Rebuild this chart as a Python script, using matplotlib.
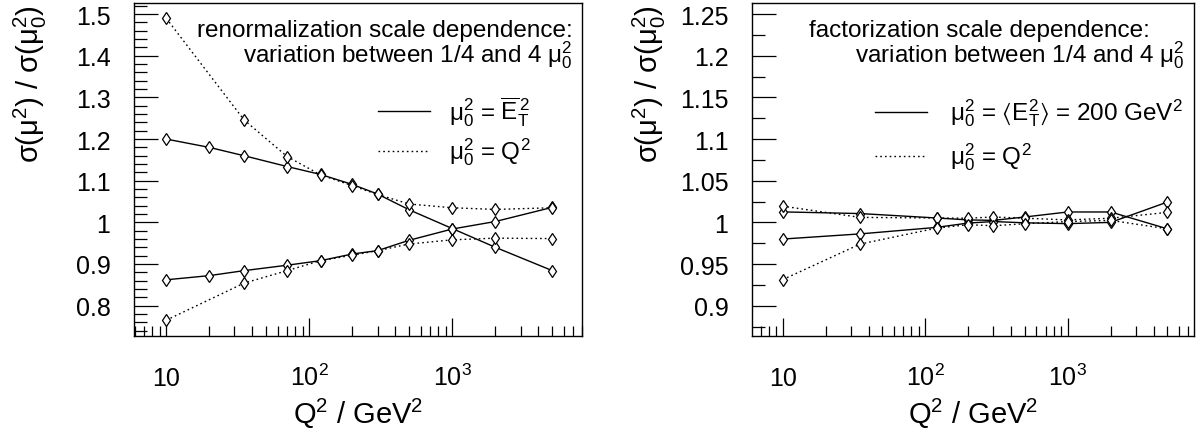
import matplotlib
matplotlib.use('Agg')
import matplotlib.pyplot as plt
import matplotlib.ticker as ticker
from matplotlib.lines import Line2D

plt.rcParams['font.family'] = ['Liberation Sans', 'DejaVu Sans']
plt.rcParams['mathtext.fontset'] = 'custom'
plt.rcParams['mathtext.rm'] = 'Liberation Sans'
plt.rcParams['mathtext.it'] = 'Liberation Sans'
plt.rcParams['mathtext.bf'] = 'Liberation Sans:bold'
plt.rcParams['mathtext.fallback'] = 'stixsans'

# renormalization scale panel
q2_ren_et = [10, 20, 35, 70, 120, 200, 300, 500, 1000, 2000, 5000]
ren_et_up = [1.200, 1.180, 1.160, 1.134, 1.115, 1.091, 1.068, 1.030, 0.985, 0.940, 0.884]
ren_et_dn = [0.862, 0.872, 0.884, 0.897, 0.908, 0.924, 0.932, 0.957, 0.984, 1.002, 1.036]
q2_ren_q2 = [10, 35, 70, 120, 200, 300, 500, 1000, 2000, 5000]
ren_q2_up = [1.490, 1.246, 1.158, 1.114, 1.088, 1.067, 1.044, 1.035, 1.031, 1.035]
ren_q2_dn = [0.765, 0.854, 0.884, 0.908, 0.921, 0.932, 0.948, 0.958, 0.962, 0.961]

# factorization scale panel
q2_fac = [10, 35, 120, 200, 300, 500, 1000, 2000, 5000]
fac_et_a = [1.0126, 1.0106, 1.0053, 1.0030, 1.0024, 1.0065, 1.0125, 1.0125, 0.9923]
fac_et_b = [0.9800, 0.9862, 0.9940, 0.9992, 1.0010, 0.9995, 0.9985, 1.0000, 1.0244]
fac_q2_a = [1.0195, 1.0060, 1.0053, 1.0050, 1.0065, 1.0050, 1.0030, 1.0050, 1.0120]
fac_q2_b = [0.9313, 0.9740, 0.9931, 0.9972, 0.9960, 0.9984, 1.0010, 1.0024, 0.9923]

xtick_vals = [10, 100, 1000]
xtick_labels = ['10', '10$^2$', '10$^3$']

DOT = (0, (1.2, 2.2))
mk = dict(marker='d', markersize=6, mfc='white', mec='black', mew=0.9)
FS_TEXT = 17.5


def style_axis(ax, xlim, ylim, ymaj, ymin):
    ax.set_xscale('log')
    ax.set_xlim(xlim)
    ax.set_ylim(ylim)
    ax.xaxis.set_major_locator(ticker.FixedLocator(xtick_vals))
    ax.xaxis.set_major_formatter(ticker.FixedFormatter(xtick_labels))
    ax.xaxis.set_minor_locator(ticker.LogLocator(base=10, subs=range(2, 10)))
    ax.xaxis.set_minor_formatter(ticker.NullFormatter())
    ax.yaxis.set_major_locator(ticker.MultipleLocator(ymaj))
    ax.yaxis.set_minor_locator(ticker.MultipleLocator(ymin))
    ax.yaxis.set_major_formatter(ticker.FuncFormatter(lambda v, p: '%g' % round(v, 3)))
    ax.tick_params(axis='both', which='both', direction='in', top=False, right=False, width=0.9)
    ax.tick_params(axis='x', which='major', length=13, pad=35, labelsize=18)
    ax.tick_params(axis='x', which='minor', length=7)
    ax.tick_params(axis='y', which='major', length=17, pad=17, labelsize=18)
    ax.tick_params(axis='y', which='minor', length=9)
    for t in ax.xaxis.get_major_ticks():
        t.label1.set_verticalalignment('baseline')
    for s in ax.spines.values():
        s.set_linewidth(1.0)
    ax.set_xlabel('Q$^2$ / GeV$^2$', fontsize=21)
    ax.xaxis.set_label_coords(0.5, -0.18)
    ax.text(-0.232, 0.995, 'σ(μ$^2$) / σ(μ$_0^2$)', transform=ax.transAxes,
            rotation=90, ha='center', va='top', fontsize=21)


def legend_entry(ax, y, x0, x1, xt, ls, label):
    ax.add_line(Line2D([x0, x1], [y, y], transform=ax.transAxes, color='black',
                       lw=1.0, ls=ls))
    ax.text(xt, y, label, transform=ax.transAxes, ha='left', va='center', fontsize=FS_TEXT)


def main():
    fig = plt.figure(figsize=(11.96, 4.39), dpi=100)
    ax1 = fig.add_axes([134 / 1196, 102 / 439, 447.5 / 1196, 333.5 / 439])
    ax2 = fig.add_axes([752 / 1196, 102 / 439, 442 / 1196, 333.5 / 439])

    # left: renormalization scale
    ax1.plot(q2_ren_et, ren_et_up, color='black', lw=1.0, **mk)
    ax1.plot(q2_ren_et, ren_et_dn, color='black', lw=1.0, **mk)
    ax1.plot(q2_ren_q2, ren_q2_up, color='black', lw=1.0, ls=DOT, **mk)
    ax1.plot(q2_ren_q2, ren_q2_dn, color='black', lw=1.0, ls=DOT, **mk)
    style_axis(ax1, (5.95, 8000), (0.727, 1.528), 0.1, 0.02)
    ax1.text(0.981, 0.900, 'renormalization scale dependence:', transform=ax1.transAxes,
             ha='right', va='baseline', fontsize=FS_TEXT)
    ax1.text(0.981, 0.822, 'variation between 1/4 and 4 μ$_0^2$', transform=ax1.transAxes,
             ha='right', va='baseline', fontsize=FS_TEXT)
    legend_entry(ax1, 0.675, 0.546, 0.662, 0.705, '-', 'μ$_0^2$ = $\\overline{E}_T^{\\,2}$')
    legend_entry(ax1, 0.555, 0.546, 0.662, 0.705, DOT, 'μ$_0^2$ = Q$^2$')

    # right: factorization scale
    ax2.plot(q2_fac, fac_et_a, color='black', lw=1.0, **mk)
    ax2.plot(q2_fac, fac_et_b, color='black', lw=1.0, **mk)
    ax2.plot(q2_fac, fac_q2_a, color='black', lw=1.0, ls=DOT, **mk)
    ax2.plot(q2_fac, fac_q2_b, color='black', lw=1.0, ls=DOT, **mk)
    style_axis(ax2, (6.09, 7690), (0.8636, 1.264), 0.05, 0.025)
    ax2.text(0.129, 0.900, 'factorization scale dependence:', transform=ax2.transAxes,
             ha='left', va='baseline', fontsize=FS_TEXT)
    ax2.text(0.978, 0.822, 'variation between 1/4 and 4 μ$_0^2$', transform=ax2.transAxes,
             ha='right', va='baseline', fontsize=FS_TEXT)
    legend_entry(ax2, 0.672, 0.279, 0.395, 0.449, '-',
                 'μ$_0^2$ = $\\langle$E$_T^2$$\\rangle$ = 200 GeV$^2$')
    legend_entry(ax2, 0.540, 0.279, 0.395, 0.449, DOT, 'μ$_0^2$ = Q$^2$')

    fig.savefig('out.png', dpi=100)


if __name__ == '__main__':
    main()
